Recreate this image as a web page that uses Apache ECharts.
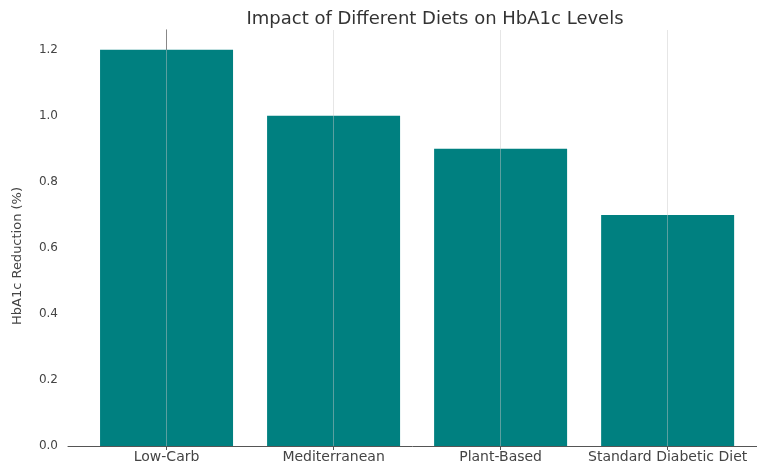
<!DOCTYPE html>
<html>
<head>
<meta charset="utf-8">
<script src="https://cdn.jsdelivr.net/npm/echarts@6/dist/echarts.min.js"></script>
<style>
  html, body { margin: 0; padding: 0; background: #fff; }
  #chart { width: 757px; height: 468px; }
</style>
</head>
<body>
<div id="chart"></div>
<script>
  // diets and HbA1c reduction (%)
  var diets = ['Low-Carb', 'Mediterranean', 'Plant-Based', 'Standard Diabetic Diet']
  var reduction = [1.2, 1.0, 0.9, 0.7]
  var yTicks = [0, 0.2, 0.4, 0.6, 0.8, 1.0, 1.2]

  var positions = diets.map(function(d, i) { return i })

  var chart = echarts.init(document.getElementById('chart'))
  var font = 'DejaVu Sans'

  var option = {
    backgroundColor: '#fff',
    animation: false,
    title: {
      text: 'Impact of Different Diets on HbA1c Levels',
      left: 430,
      textAlign: 'center',
      top: 5,
      textStyle: { fontFamily: font, fontSize: 18, fontWeight: 'normal', color: '#333' }
    },
    grid: { left: 68, right: 0, top: 30, bottom: 22 },
    xAxis: {
      type: 'value',
      // bars sit at 0..3, the right end runs off the canvas
      min: -0.59,
      max: 3.535,
      z: 3,
      axisLine: { show: true, lineStyle: { color: '#555', width: 1 } },
      axisTick: { show: true, customValues: positions, length: 4, lineStyle: { color: '#555' } },
      axisLabel: {
        customValues: positions,
        fontFamily: font,
        fontSize: 14,
        color: '#444',
        margin: 4,
        formatter: function(v) { return diets[Math.round(v)] }
      },
      splitLine: { show: true, lineStyle: { color: 'rgba(200,200,200,0.45)', width: 1 } }
    },
    yAxis: {
      type: 'value',
      min: 0,
      max: 1.26,
      name: 'HbA1c Reduction (%)',
      nameLocation: 'middle',
      nameGap: 44,
      nameTextStyle: { fontFamily: font, fontSize: 13, color: '#444', padding: [0, 0, 0, -36] },
      axisLine: { show: true, lineStyle: { color: '#555', width: 1 } },
      axisTick: { show: true, customValues: yTicks, length: 4, lineStyle: { color: '#555' } },
      axisLabel: {
        customValues: yTicks,
        fontFamily: font,
        fontSize: 12,
        color: '#444',
        margin: 10,
        formatter: function(v) { return v.toFixed(1) }
      },
      splitLine: { show: false }
    },
    series: [{
      type: 'bar',
      data: positions.map(function(p, i) { return [p, reduction[i]] }),
      barWidth: 133,
      itemStyle: { color: '#008080' }
    }]
  }

  chart.setOption(option)
</script>
</body>
</html>
